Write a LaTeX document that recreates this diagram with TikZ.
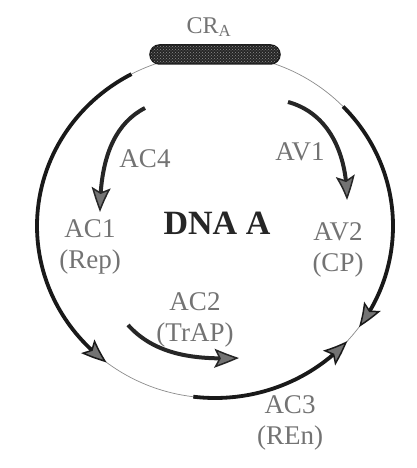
\documentclass[tikz,border=0pt]{standalone}
\usepackage{fontspec}
\setmainfont{Liberation Serif}
\usetikzlibrary{arrows.meta,bending,patterns}
\begin{document}
\begin{tikzpicture}[x=1pt,y=1pt,
  lbl/.style={text=black!55, font=\fontsize{27}{31}\selectfont, align=center, inner sep=0pt},
  title/.style={text=black!85, font=\bfseries\fontsize{34}{37}\selectfont, inner sep=0pt},
  thickarc/.style={line width=3.8pt, draw=black!90},
  thinline/.style={line width=0.7pt, draw=black!45},
  innerarr/.style={line width=4pt, draw=black!85},
  tip/.style={-{Stealth[length=25pt,width=19pt,inset=5pt,line width=1.5pt,bend,fill=black!55]}},
  crbox/.style={draw=black!90, line width=1.5pt, fill=black!85, rounded corners=9.5pt,
    minimum width=130pt, minimum height=19pt, inner sep=0pt,
    postaction={pattern=crosshatch dots, pattern color=black!45}}]
\useasboundingbox (0,0) rectangle (417,468);
\fill[white] (0,0) rectangle (417,468);
\coordinate (C) at (215,242);
% thin genome circle
\draw[thinline] (C) ellipse [x radius=178, y radius=172];
% CR box
\node[crbox] (cr) at (215,413.5) {};
\node[lbl, font=\fontsize{24}{27}\selectfont] (crl) at (209,441) {CR\textsubscript{A}};
% large ORF arcs
\draw[thickarc, tip] ([shift={(118:178 and 172)}]C) arc[start angle=118, end angle=232.5, x radius=178, y radius=172];
\draw[thickarc, tip] ([shift={(44:178 and 172)}]C) arc[start angle=44, end angle=-36, x radius=178, y radius=172];
\draw[thickarc, tip] ([shift={(-97:178 and 172)}]C) arc[start angle=-97, end angle=-42, x radius=178, y radius=172];
% inner arrows
\coordinate (ac4s) at (145,360);
\coordinate (ac4e) at (100,256);
\draw[innerarr, tip] (ac4s) .. controls (112,343) and (100,305) .. (ac4e);
\coordinate (av1s) at (288,366);
\coordinate (av1e) at (347,268);
\draw[innerarr, tip] (av1s) .. controls (325,356) and (347,320) .. (av1e);
\coordinate (ac2s) at (128,143);
\coordinate (ac2e) at (239,110);
\draw[innerarr, tip] (ac2s) .. controls (155,113) and (195,108) .. (ac2e);
% labels
\node[title] (dna) at (217,245) {DNA A};
\node[lbl] (ac4) at (145,309) {AC4};
\node[lbl] (av1) at (300,316) {AV1};
\node[lbl] (ac1) at (90,221) {AC1\\(Rep)};
\node[lbl] (av2) at (338,218) {AV2\\(CP)};
\node[lbl] (ac2) at (195,148) {AC2\\(TrAP)};
\node[lbl] (ac3) at (290,45) {AC3\\(REn)};
\end{tikzpicture}
\end{document}
